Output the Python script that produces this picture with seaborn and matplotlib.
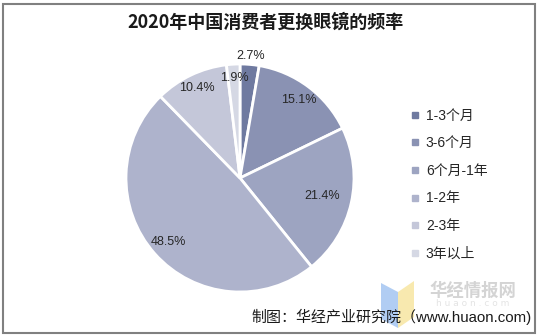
import numpy as np
import matplotlib
matplotlib.use("Agg")
import matplotlib.pyplot as plt
from matplotlib.patches import Rectangle, Polygon
from matplotlib.lines import Line2D
import seaborn as sns

sns.set_theme(style="white")
plt.rcParams["font.family"] = ["Liberation Sans", "Noto Sans CJK SC", "DejaVu Sans"]

categories = ["1-3个月", "3-6个月", "6个月-1年", "1-2年", "2-3年", "3年以上"]
shares = [2.7, 15.1, 21.4, 48.5, 10.4, 1.9]
colors = ["#6F7AA0", "#8A92B3", "#9DA4C1", "#AEB3CC", "#C4C7D9", "#D5D8E4"]
title = "2020年中国消费者更换眼镜的频率"
source = "制图：华经产业研究院（www.huaon.com)"

# label placement: radial distance per wedge
label_r = [1.07, 0.86, 0.74, 0.84, 0.875, 0.88]

W, H = 537, 336
fig = plt.figure(figsize=(W / 100, H / 100), dpi=100)
fig.patch.set_facecolor("white")

# outer frame
fig.add_artist(Rectangle((2.5 / W, 3.5 / H), (W - 5) / W, (H - 7) / H,
                         transform=fig.transFigure, fill=False,
                         edgecolor="#808080", linewidth=1.5))

cx, cy, r = 240, 178, 114
ax = fig.add_axes([(cx - r) / W, (H - cy - r) / H, 2 * r / W, 2 * r / H])
wedges, _ = ax.pie(shares, colors=colors, startangle=90, counterclock=False,
                   radius=1, wedgeprops=dict(edgecolor="white", linewidth=2))
ax.set_xlim(-1, 1)
ax.set_ylim(-1, 1)
ax.set_aspect("equal")
ax.axis("off")

cum = np.cumsum([0] + shares[:-1])
for val, start, rr in zip(shares, cum, label_r):
    mid = (start + val / 2) / 100 * 360
    th = np.deg2rad(mid)
    ax.text(rr * np.sin(th), rr * np.cos(th), f"{val}%", ha="center", va="center",
            fontsize=9, color="#262626")

# watermark logo
fig.add_artist(Polygon([(381 / W, 1 - 283 / H), (398 / W, 1 - 292 / H),
                        (398 / W, 1 - 328 / H), (381 / W, 1 - 319 / H)],
                       closed=True, transform=fig.transFigure,
                       facecolor="#A9C8F2", edgecolor="none", alpha=0.9))
fig.add_artist(Polygon([(398 / W, 1 - 292 / H), (414 / W, 1 - 281 / H),
                        (414 / W, 1 - 317 / H), (398 / W, 1 - 328 / H)],
                       closed=True, transform=fig.transFigure,
                       facecolor="#F8E7A6", edgecolor="none", alpha=0.9))
fig.text(473 / W, 1 - 291 / H, "华经情报网", ha="center", va="center",
         fontsize=12.5, fontweight="bold", color="#D4D4D4",
         family=["Noto Sans CJK SC"])
fig.text(473 / W, 1 - 303.5 / H, "h u a o n . c o m", ha="center", va="center",
         fontsize=6.5, color="#E4E4E4", family=["DejaVu Sans"])

fig.text(266 / W, 1 - 22 / H, title, ha="center", va="center", fontsize=13,
         fontweight="bold", color="#1a1a1a",
         family=["Noto Sans CJK SC", "DejaVu Sans"])

# legend
handles = [Line2D([], [], marker="s", linestyle="", markersize=4.5,
                  markerfacecolor=c, markeredgecolor=c) for c in colors]
leg = fig.legend(handles, categories, loc="upper left",
                 bbox_to_anchor=(405 / W, 1 - 103 / H), frameon=False,
                 fontsize=10, labelspacing=0.98, handlelength=0.6,
                 handletextpad=0.5, borderaxespad=0)
for t in leg.get_texts():
    t.set_color("#262626")

fig.text(532 / W, 1 - 317 / H, source, ha="right", va="center", fontsize=10.8,
         color="#1a1a1a")

fig.savefig("out.png", dpi=100, facecolor="white")
